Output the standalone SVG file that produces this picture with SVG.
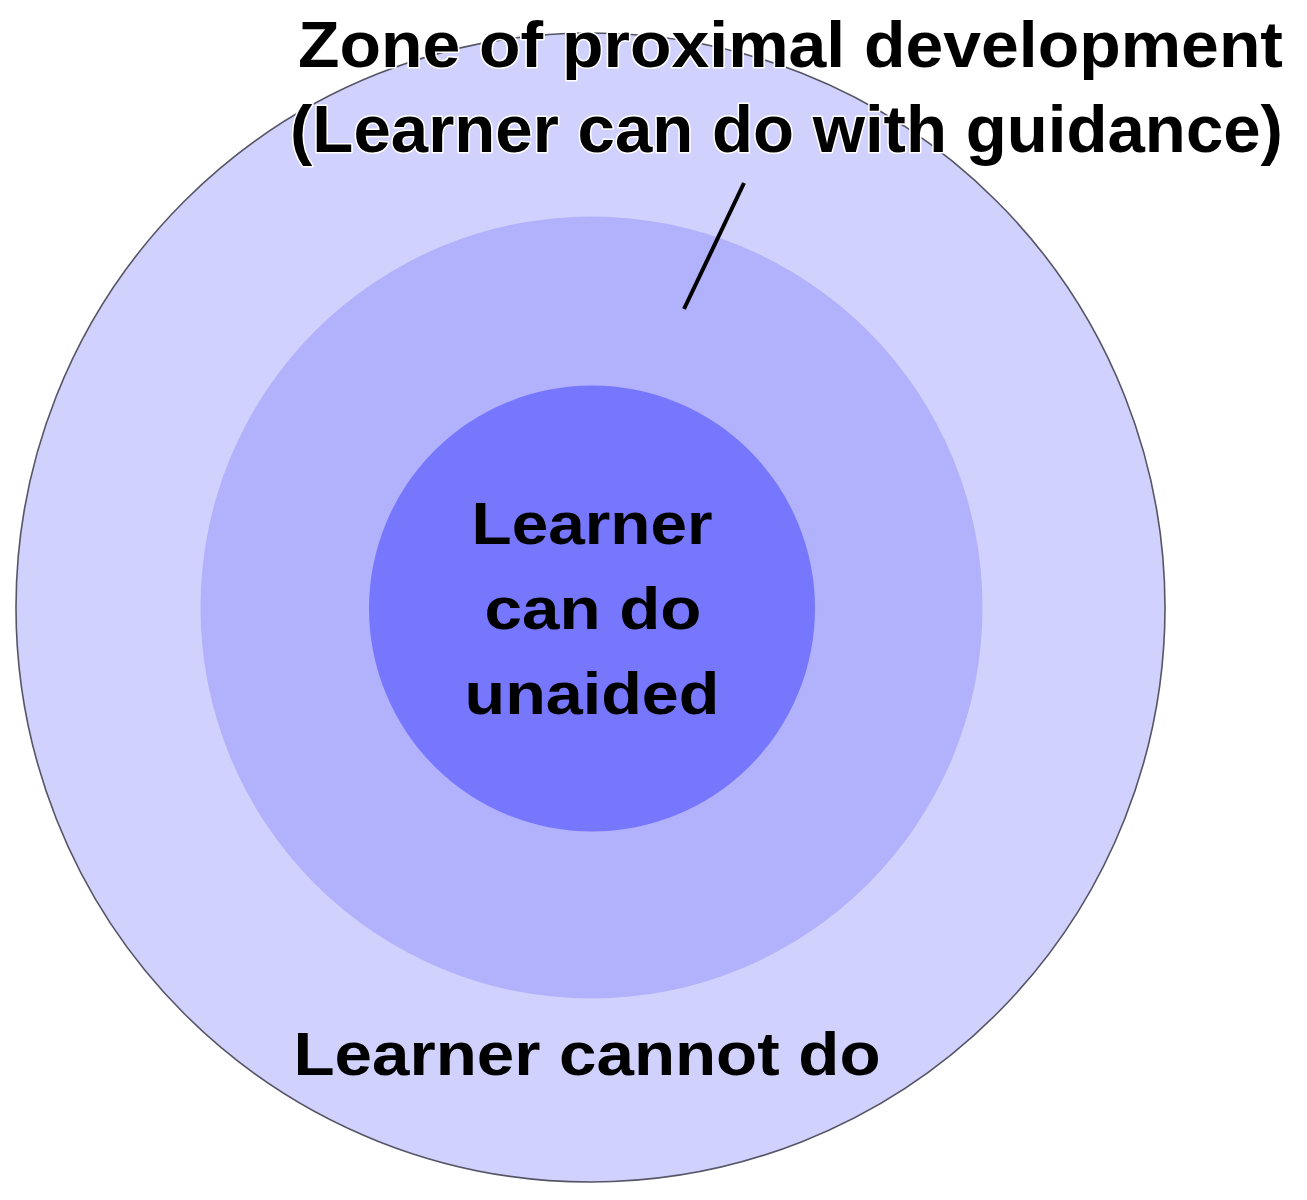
<svg xmlns="http://www.w3.org/2000/svg" width="1307" height="1200" viewBox="0 0 1307 1200">
<style>
  .lbl { font-family: "Liberation Sans", Arial, sans-serif; font-weight: bold; fill: #000; text-anchor: middle; }
  .halo { stroke: #fff; stroke-width: 3; stroke-linejoin: round; paint-order: stroke; }
</style>
<rect x="0" y="0" width="1307" height="1200" fill="#ffffff"/>
<g id="outer">
  <circle cx="590.5" cy="607.5" r="574.5" fill="#d1d1fd" stroke="#555566" stroke-width="1.6"/>
  <text class="lbl" x="587" y="1075" font-size="61" textLength="587" lengthAdjust="spacingAndGlyphs">Learner cannot do</text>
</g>
<g id="middle">
  <circle cx="591.5" cy="607.5" r="391" fill="#b1b1fc"/>
</g>
<g id="inner">
  <circle cx="592" cy="608.5" r="223" fill="#7777fd"/>
  <text class="lbl" x="592" y="544" font-size="60" textLength="241" lengthAdjust="spacingAndGlyphs">Learner</text>
  <text class="lbl" x="593" y="629" font-size="60" textLength="217" lengthAdjust="spacingAndGlyphs">can do</text>
  <text class="lbl" x="592" y="714" font-size="60" textLength="255" lengthAdjust="spacingAndGlyphs">unaided</text>
</g>
<g id="connectors">
  <line x1="744" y1="183" x2="684" y2="309" stroke="#000" stroke-width="4"/>
</g>
<g id="zpd-label">
  <text class="lbl halo" x="790.5" y="67" font-size="65" textLength="985" lengthAdjust="spacingAndGlyphs">Zone of proximal development</text>
  <text class="lbl halo" x="786.5" y="152" font-size="66" textLength="993" lengthAdjust="spacingAndGlyphs">(Learner can do with guidance)</text>
</g>
</svg>
